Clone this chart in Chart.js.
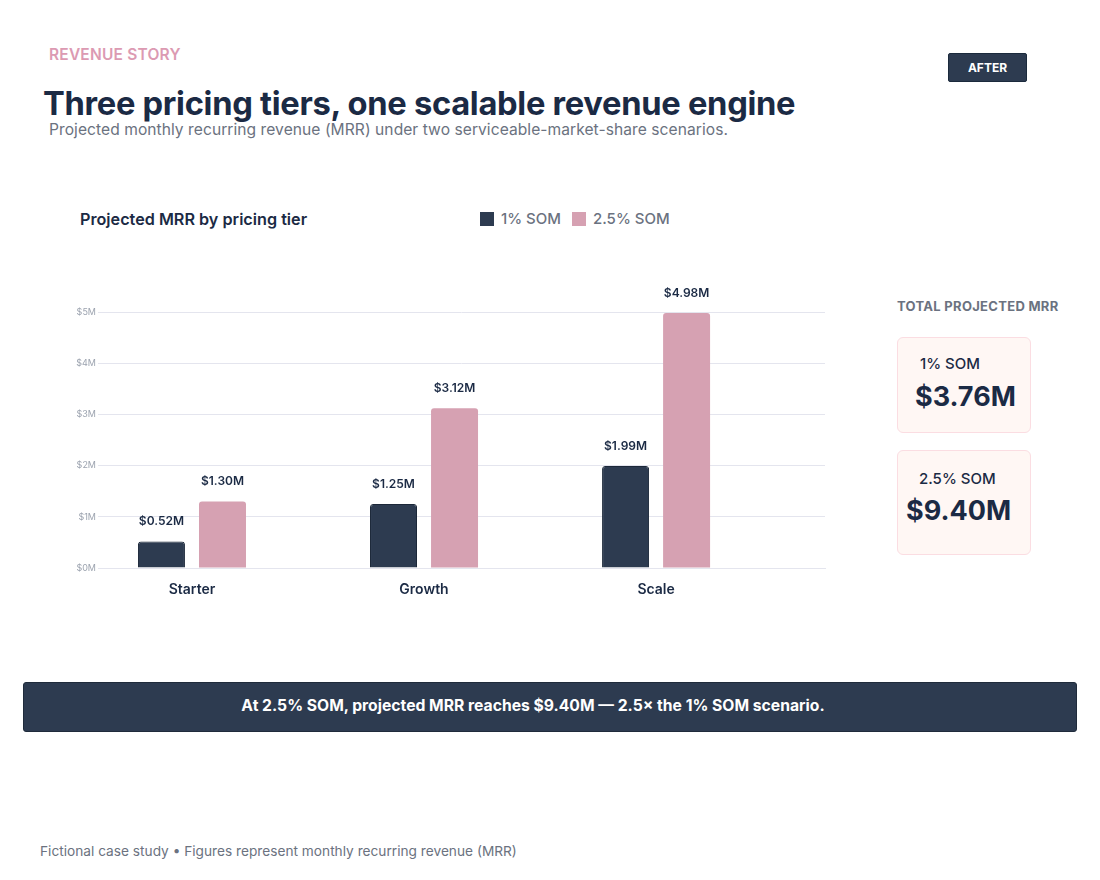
<!DOCTYPE html>
<html>
<head>
<meta charset="utf-8">
<script src="https://cdn.jsdelivr.net/npm/chart.js@4"></script>
<style>
  body { margin: 0; width: 1100px; height: 880px; background: #fff; font-family: Inter, "Noto Sans", sans-serif; position: relative; overflow: hidden; }
  .abs { position: absolute; white-space: nowrap; }
  #eyebrow { left: 49px; top: 45px; font-size: 15.5px; font-weight: 600; color: #dc9ab2; letter-spacing: 0.2px; }
  #title { left: 43px; top: 83px; font-size: 32.7px; font-weight: 700; color: #1b2a44; letter-spacing: -0.3px; }
  #subtitle { left: 49px; top: 120px; font-size: 15.6px; color: #6b7280; letter-spacing: 0.05px; }
  #badge { left: 948px; top: 53px; width: 77px; height: 27px; background: #2d3b50; border: 1px solid #1b2a3c; border-radius: 2px; color: #fff; font-size: 12px; font-weight: 700; text-align: center; line-height: 27px; }
  #chartTitle { left: 80px; top: 209px; font-size: 16.2px; font-weight: 600; color: #1b2a44; }
  #legend { left: 480px; top: 209px; display: flex; font-size: 15px; color: #6b7280; font-weight: 500; }
  #legend .item { display: flex; align-items: center; margin-right: 11px; }
  #legend .sw { width: 14px; height: 14px; margin-right: 7px; }
  #chartBox { left: 60px; top: 280px; width: 780px; height: 325px; }
  #totalsHead { left: 897px; top: 298px; font-size: 13px; font-weight: 700; color: #6b7280; letter-spacing: 0.3px; }
  .card { position: absolute; left: 897px; width: 132px; background: #fff7f4; border: 1px solid #fbdde2; border-radius: 6px; }
  .card .lab { position: absolute; font-size: 15px; font-weight: 500; color: #1b2a44; }
  .card .val { position: absolute; font-size: 27px; font-weight: 700; color: #1b2a44; }
  #banner { left: 23px; top: 682px; width: 1018px; padding-right: 34px; height: 48px; background: #2d3b50; border: 1px solid #1f2b3b; border-radius: 3px; color: #fff; font-size: 15.7px; font-weight: 700; text-align: center; line-height: 46px; }
  #footer { left: 40px; top: 843px; font-size: 13.7px; color: #6b7280; }
</style>
</head>
<body>
<div class="abs" id="eyebrow">REVENUE STORY</div>
<div class="abs" id="title">Three pricing tiers, one scalable revenue engine</div>
<div class="abs" id="subtitle">Projected monthly recurring revenue (MRR) under two serviceable-market-share scenarios.</div>
<div class="abs" id="badge">AFTER</div>

<div class="abs" id="chartTitle">Projected MRR by pricing tier</div>
<div class="abs" id="legend"></div>
<div class="abs" id="chartBox"><canvas id="mrrChart"></canvas></div>

<div class="abs" id="totalsHead">TOTAL PROJECTED MRR</div>
<div class="card" style="top:337px;height:94px;">
  <div class="lab" style="left:22px;top:16px;">1% SOM</div>
  <div class="val" id="total1" style="left:17px;top:42px;"></div>
</div>
<div class="card" style="top:450px;height:103px;">
  <div class="lab" style="left:21px;top:18px;">2.5% SOM</div>
  <div class="val" id="total2" style="left:8px;top:43px;"></div>
</div>

<div class="abs" id="banner">At 2.5% SOM, projected MRR reaches $9.40M — 2.5× the 1% SOM scenario.</div>
<div class="abs" id="footer">Fictional case study • Figures represent monthly recurring revenue (MRR)</div>

<script>
// data ($M per month)
const tiers = ['Starter', 'Growth', 'Scale'];
const som1 = [0.52, 1.25, 1.99];
const som25 = [1.30, 3.12, 4.98];
const seriesNames = ['1% SOM', '2.5% SOM'];
const yTicks = [0, 1, 2, 3, 4, 5];

const colors = ['#2d3b50', '#d6a1b2'];
const fmt = v => '$' + v.toFixed(2) + 'M';

// totals cards
const sum = arr => arr.reduce((a, b) => a + b, 0);
document.getElementById('total1').textContent = fmt(sum(som1));
document.getElementById('total2').textContent = fmt(sum(som25));

// html legend
document.getElementById('legend').innerHTML = seriesNames.map((n, i) =>
  `<div class="item"><span class="sw" style="background:${colors[i]}"></span>${n}</div>`).join('');

// value labels above bars
const valueLabels = {
  id: 'valueLabels',
  afterDatasetsDraw(chart) {
    const ctx = chart.ctx;
    ctx.save();
    ctx.font = '600 12px Inter, "Noto Sans", sans-serif';
    ctx.fillStyle = '#1b2a44';
    ctx.textAlign = 'center';
    ctx.textBaseline = 'middle';
    chart.data.datasets.forEach((ds, di) => {
      chart.getDatasetMeta(di).data.forEach((bar, i) => {
        ctx.fillText(fmt(ds.data[i].y), bar.x, bar.y - 20);
      });
    });
    ctx.restore();
  }
};

const toPoints = arr => arr.map((v, i) => ({ x: i, y: v }));

new Chart(document.getElementById('mrrChart'), {
  type: 'bar',
  data: {
    datasets: [
      { label: seriesNames[0], data: toPoints(som1), backgroundColor: colors[0], borderColor: '#1c2839', borderWidth: 1, borderRadius: 3 },
      { label: seriesNames[1], data: toPoints(som25), backgroundColor: colors[1], borderWidth: 0, borderRadius: 3 }
    ]
  },
  options: {
    responsive: true,
    maintainAspectRatio: false,
    animation: false,
    categoryPercentage: 0.526,
    barPercentage: 0.77,
    layout: { padding: { top: 32, right: 15, left: 0, bottom: 0 } },
    plugins: { legend: { display: false }, tooltip: { enabled: false } },
    scales: {
      x: {
        type: 'linear',
        offset: false,
        bounds: 'ticks',
        min: -0.405,
        max: 2.728,
        grid: { display: false, offset: false },
        border: { color: '#e4e5ee' },
        afterFit: s => { s.height = 37; },
        afterBuildTicks: s => { s.ticks = tiers.map((t, i) => ({ value: i })); },
        ticks: {
          padding: 5,
          color: '#1b2a44',
          font: { size: 14, weight: '600', family: 'Inter, "Noto Sans", sans-serif' },
          callback: v => tiers[v] ?? ''
        }
      },
      y: {
        min: yTicks[0],
        max: yTicks[yTicks.length - 1],
        afterFit: s => { s.width = 38; },
        afterBuildTicks: s => { s.ticks = yTicks.map(v => ({ value: v })); },
        grid: { color: '#e4e5ee', drawTicks: false },
        border: { display: false },
        ticks: {
          padding: 2,
          color: '#9ca3af',
          font: { size: 9, family: 'Inter, "Noto Sans", sans-serif' },
          callback: v => '$' + v + 'M'
        }
      }
    }
  },
  plugins: [valueLabels]
});
</script>
</body>
</html>
